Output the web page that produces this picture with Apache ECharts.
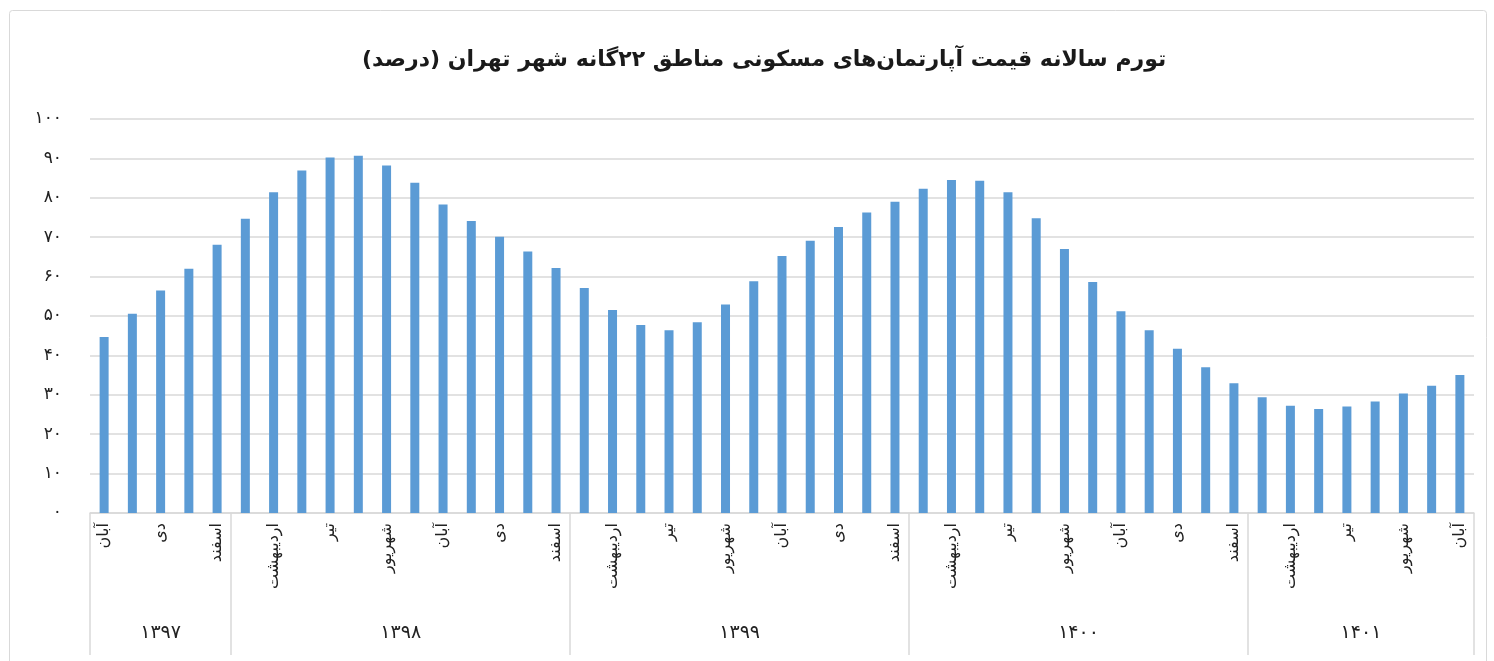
<!DOCTYPE html>
<html lang="fa">
<head>
    <meta charset="UTF-8">
    <title>تورم سالانه قیمت آپارتمان</title>
    <script src="https://cdn.jsdelivr.net/npm/echarts@6/dist/echarts.min.js"></script>
    <style>
        html, body { margin: 0; padding: 0; background: #fff; }
        #main { width: 1494px; height: 661px; }
    </style>
</head>
<body>
    <div id="main"></div>
    <script type="text/javascript">
        var monthNames = ['فروردین', 'اردیبهشت', 'خرداد', 'تیر', 'مرداد', 'شهریور', 'مهر', 'آبان', 'آذر', 'دی', 'بهمن', 'اسفند'];
        var yearLabels = ['۱۳۹۷', '۱۳۹۸', '۱۳۹۹', '۱۴۰۰', '۱۴۰۱'];
        var yTicks = [0, 10, 20, 30, 40, 50, 60, 70, 80, 90, 100];

        // درصد تورم سالانه، ماه به ماه
        var inflation1397 = [44.7, 50.6, 56.5, 62.0, 68.1];   // آبان تا اسفند
        var inflation1398 = [74.7, 81.4, 86.9, 90.2, 90.7, 88.2, 83.8, 78.3, 74.1, 70.1, 66.4, 62.2];
        var inflation1399 = [57.1, 51.5, 47.7, 46.4, 48.4, 52.9, 58.8, 65.2, 69.1, 72.6, 76.3, 79.0];
        var inflation1400 = [82.3, 84.5, 84.3, 81.4, 74.8, 67.0, 58.6, 51.2, 46.4, 41.7, 37.0, 32.9];
        var inflation1401 = [29.4, 27.2, 26.4, 27.0, 28.3, 30.3, 32.3, 35.0];  // فروردین تا آبان

        var yearSeries = [inflation1397, inflation1398, inflation1399, inflation1400, inflation1401];
        var firstMonth = [7, 0, 0, 0, 0];

        function toFa(s) {
            return String(s).replace(/\d/g, function (d) { return '۰۱۲۳۴۵۶۷۸۹'[d]; });
        }

        var categories = [];
        var values = [];
        var bounds = [0];
        var centers = [];
        yearSeries.forEach(function (arr, i) {
            arr.forEach(function (v, j) {
                categories.push(monthNames[firstMonth[i] + j] + ' ' + yearLabels[i]);
                values.push(v);
            });
            centers.push(bounds[bounds.length - 1] + arr.length / 2);
            bounds.push(categories.length);
        });

        var font = "'DejaVu Sans', sans-serif";
        var grey = '#d9d9d9';

        var myChart = echarts.init(document.getElementById('main'));
        var option = {
            backgroundColor: '#fff',
            animation: false,
            title: {
                text: 'تورم سالانه قیمت آپارتمان‌های مسکونی مناطق ۲۲گانه شهر تهران (درصد)',
                left: 357,
                top: 44,
                textStyle: { fontFamily: font, fontSize: 22, fontWeight: 'bold', color: '#1a1a1a' }
            },
            graphic: [{
                type: 'rect',
                shape: { x: 9.5, y: 10.5, width: 1477, height: 660, r: 3 },
                style: { fill: 'none', stroke: grey, lineWidth: 1 },
                silent: true
            }],
            grid: { left: 90, right: 20, top: 119, bottom: 148 },
            xAxis: [{
                type: 'category',
                data: categories,
                axisLine: { lineStyle: { color: grey, width: 1.5 } },
                axisTick: { show: false },
                axisLabel: {
                    interval: 1,
                    rotate: 90,
                    margin: 10,
                    fontFamily: font,
                    fontSize: 16,
                    color: '#222',
                    formatter: function (v) { return v.split(' ')[0]; }
                }
            }, {
                type: 'value',
                position: 'bottom',
                min: 0,
                max: bounds[bounds.length - 1],
                axisLine: { show: false },
                splitLine: { show: false },
                axisTick: {
                    show: true,
                    customValues: bounds,
                    length: 142,
                    lineStyle: { color: grey, width: 1.5 }
                },
                axisLabel: {
                    customValues: centers,
                    margin: 111,
                    fontFamily: font,
                    fontSize: 19,
                    color: '#222',
                    formatter: function (v) {
                        var i = centers.indexOf(v);
                        return i >= 0 ? yearLabels[i] : '';
                    }
                }
            }],
            yAxis: {
                type: 'value',
                min: yTicks[0],
                max: yTicks[yTicks.length - 1],
                interval: 10,
                axisLine: { show: false },
                axisTick: { show: false },
                splitLine: { lineStyle: { color: grey, width: 1.5 } },
                axisLabel: {
                    margin: 28,
                    fontFamily: font,
                    fontSize: 17,
                    color: '#222',
                    padding: [0, 0, 6, 0],
                    formatter: function (v) { return toFa(v); }
                }
            },
            series: [{
                type: 'bar',
                data: values,
                barWidth: 9,
                itemStyle: { color: '#5b9bd5' }
            }]
        };

        myChart.setOption(option);
    </script>
</body>
</html>
